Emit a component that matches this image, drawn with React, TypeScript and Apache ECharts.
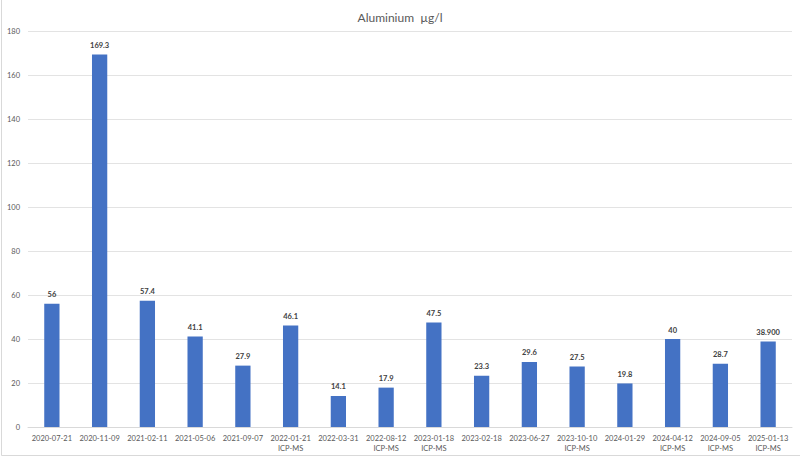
import React, { useEffect, useRef } from "react";
import * as echarts from "echarts";

const categories = [
  "2020-07-21", "2020-11-09", "2021-02-11", "2021-05-06", "2021-09-07",
  "2022-01-21\nICP-MS", "2022-03-31", "2022-08-12\nICP-MS", "2023-01-18\nICP-MS",
  "2023-02-18", "2023-06-27", "2023-10-10\nICP-MS", "2024-01-29",
  "2024-04-12\nICP-MS", "2024-09-05\nICP-MS", "2025-01-13\nICP-MS",
];
const values = [56, 169.3, 57.4, 41.1, 27.9, 46.1, 14.1, 17.9, 47.5, 23.3, 29.6, 27.5, 19.8, 40, 28.7, 38.9];
const valueLabels = ["56", "169.3", "57.4", "41.1", "27.9", "46.1", "14.1", "17.9", "47.5", "23.3", "29.6", "27.5", "19.8", "40", "28.7", "38.900"];
const titleText = "Aluminium  µg/l";

export default function App() {
  const ref = useRef<HTMLDivElement>(null);
  useEffect(() => {
    if (!ref.current) return;
    const chart = echarts.init(ref.current, null, { renderer: "svg" });
    const font = "Lato, 'Open Sans', sans-serif";
    chart.setOption({
      animation: false,
      backgroundColor: "#ffffff",
      title: {
        text: titleText,
        left: "center",
        top: 6,
        textStyle: { fontFamily: font, fontSize: 12, fontWeight: "normal", color: "#595959" },
      },
      grid: { left: 28, right: 8, top: 31, bottom: 31, containLabel: false },
      xAxis: {
        type: "category",
        data: categories,
        axisTick: { show: false },
        axisLine: { lineStyle: { color: "#d9d9d9" } },
        axisLabel: { interval: 0, fontFamily: font, fontSize: 7.5, color: "#595959", lineHeight: 10.5, margin: 6 },
      },
      yAxis: {
        type: "value",
        min: 0,
        max: 180,
        interval: 20,
        axisLine: { show: false },
        axisTick: { show: false },
        splitLine: { lineStyle: { color: "#e3e3e3" } },
        axisLabel: { fontFamily: font, fontSize: 7.5, color: "#595959", margin: 8 },
      },
      series: [
        {
          type: "bar",
          data: values,
          barWidth: "32%",
          itemStyle: { color: "#4472c4" },
          label: {
            show: true,
            position: "top",
            distance: 5,
            fontFamily: font,
            fontSize: 7.5,
            fontWeight: "bold",
            color: "#404040",
            formatter: (p: any) => valueLabels[p.dataIndex],
          },
        },
      ],
      graphic: [
        { type: "line", shape: { x1: 1.5, y1: 0, x2: 1.5, y2: 455.5 }, style: { stroke: "#d9d9d9", lineWidth: 1 } },
        { type: "line", shape: { x1: 1.5, y1: 455.5, x2: 800, y2: 455.5 }, style: { stroke: "#d9d9d9", lineWidth: 1 } },
      ],
    });
    return () => chart.dispose();
  }, []);
  return <div ref={ref} style={{ width: 800, height: 458, position: "fixed", left: 0, top: 0 }} />;
}
